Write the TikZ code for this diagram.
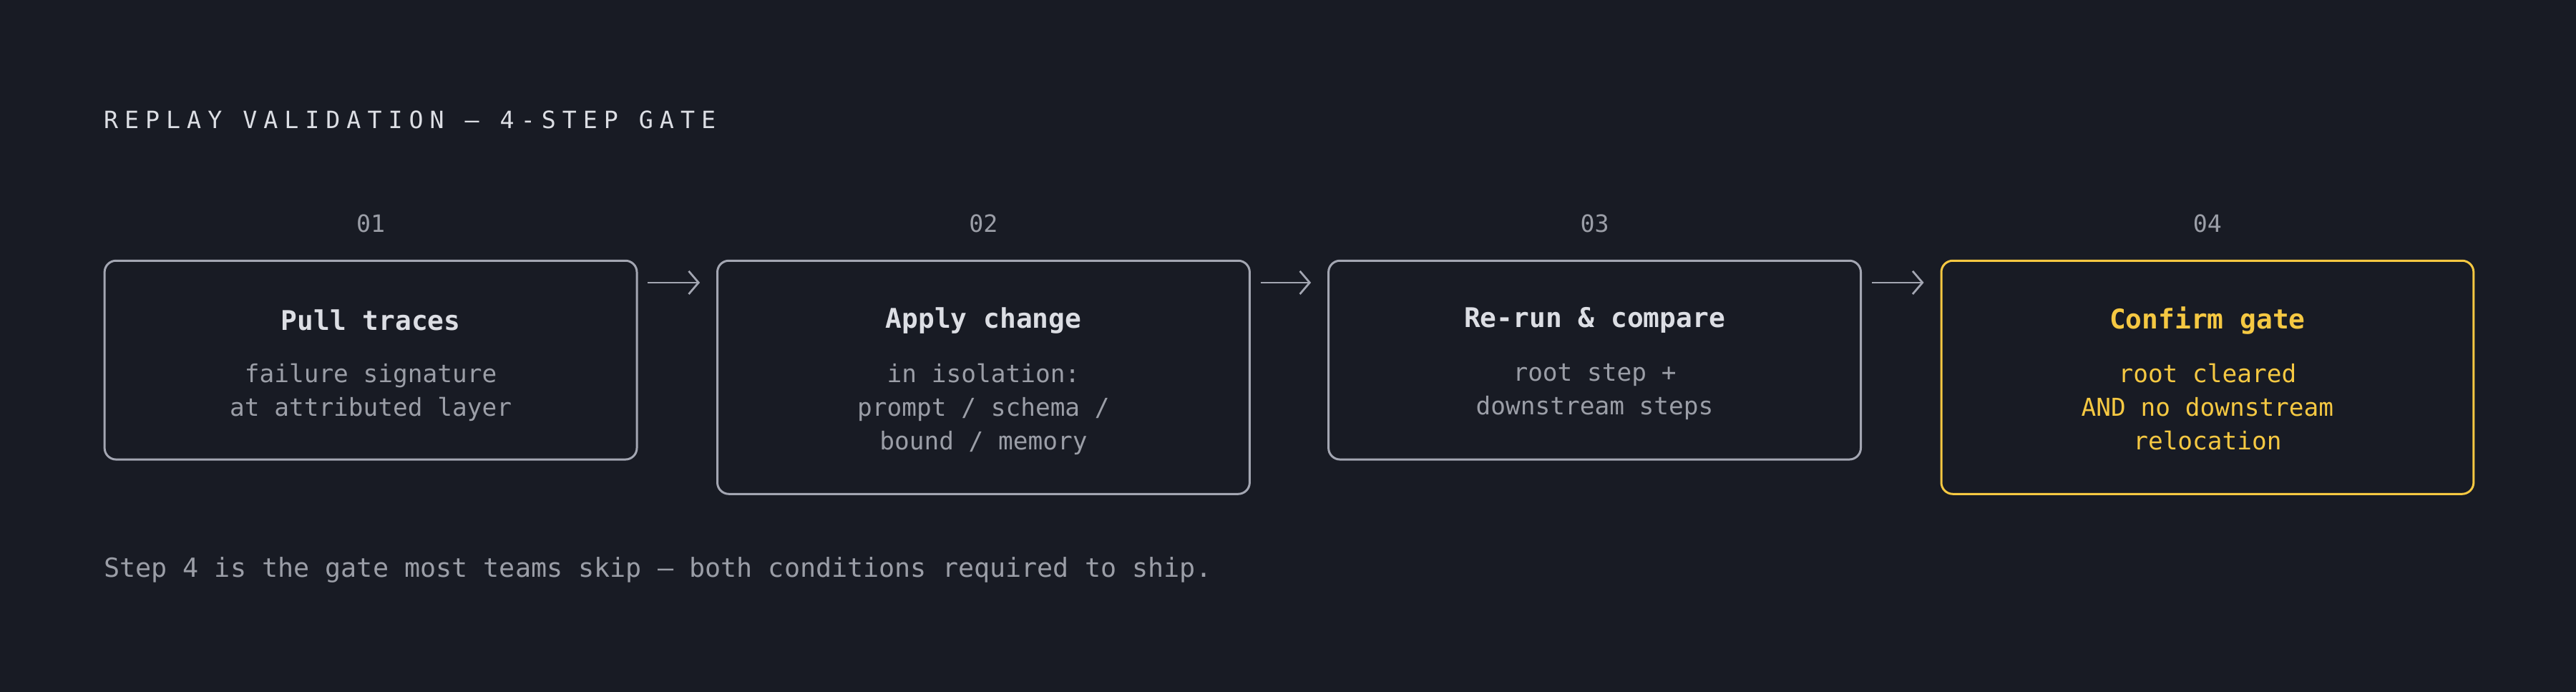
\documentclass[tikz,border=0pt]{standalone}
\usepackage{fontspec}
\setmonofont{DejaVu Sans Mono}
\usetikzlibrary{positioning,calc,arrows.meta}
\definecolor{bg}{HTML}{181B24}
\definecolor{edge}{HTML}{A3A6B2}
\definecolor{ink}{HTML}{DCDEE4}
\definecolor{dim}{HTML}{9B9EA7}
\definecolor{gold}{HTML}{F5C842}
\tikzset{
  stage/.style={draw=edge,line width=1.3bp,rounded corners=7bp,minimum width=324bp,anchor=north west,inner sep=0},
  num/.style={text=dim,font=\ttfamily\fontsize{14.5bp}{18bp}\selectfont},
  head/.style={text=ink,font=\ttfamily\bfseries\fontsize{16.5bp}{20bp}\selectfont},
  body/.style={text=dim,align=center,anchor=north,inner sep=0,font=\ttfamily\fontsize{15bp}{20.5bp}\selectfont},
  link/.style={draw=edge,line width=1.2bp,-{Straight Barb[length=6bp,width=14bp]}}
}
\begin{document}
\begin{tikzpicture}[x=1bp,y=1bp]
  \fill[bg] (0,0) rectangle (1568,-421);
  \useasboundingbox (0,0) rectangle (1568,-421);

  \node[anchor=west,inner sep=0,text=ink,font=\ttfamily\addfontfeature{LetterSpace=27}\fontsize{14.5bp}{18bp}\selectfont]
    (title) at (63,-73) {REPLAY VALIDATION — 4-STEP GATE};

  % stages
  \node[stage,minimum height=121bp] (s1) at (63,-158) {};
  \node[stage,minimum height=142bp] (s2) at (436,-158) {};
  \node[stage,minimum height=121bp] (s3) at (808,-158) {};
  \node[stage,minimum height=142bp,draw=gold] (s4) at (1181,-158) {};

  \node[num] (n1) at ($(s1.north)+(0,22)$) {01};
  \node[num] (n2) at ($(s2.north)+(0,22)$) {02};
  \node[num] (n3) at ($(s3.north)+(0,22)$) {03};
  \node[num] (n4) at ($(s4.north)+(0,22)$) {04};

  \node[head] (h1) at ($(s1.north)+(0,-37)$) {Pull traces};
  \node[head] (h2) at ($(s2.north)+(0,-37)$) {Apply change};
  \node[head] (h3) at ($(s3.north)+(0,-37)$) {Re-run \& compare};
  \node[head,text=gold] (h4) at ($(s4.north)+(0,-37)$) {Confirm gate};

  \node[body] (b1) at ($(s1.north)+(0,-63)$) {failure signature\\at attributed layer};
  \node[body] (b2) at ($(s2.north)+(0,-63)$) {in isolation:\\prompt / schema /\\bound / memory};
  \node[body] (b3) at ($(s3.north)+(0,-63)$) {root step +\\downstream steps};
  \node[body,text=gold] (b4) at ($(s4.north)+(0,-63)$) {root cleared\\AND no downstream\\relocation};

  % links
  \foreach \a/\b in {s1/s2,s2/s3,s3/s4}
    \draw[link] ($(\a.north east)+(6,-14)$) -- ($(\b.north west)+(-10,-14)$);

  \node[anchor=west,inner sep=0,text=dim,font=\ttfamily\fontsize{16bp}{18bp}\selectfont]
    (note) at (63,-347) {Step 4 is the gate most teams skip — both conditions required to ship.};
\end{tikzpicture}
\end{document}
